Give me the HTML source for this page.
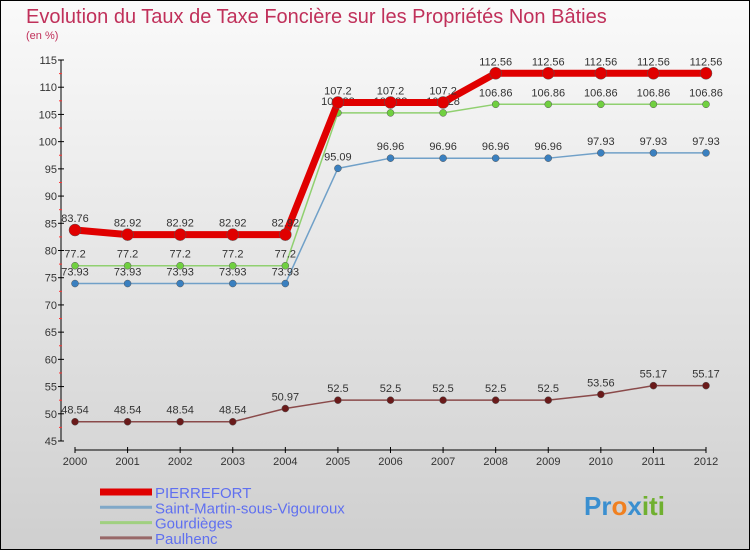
<!DOCTYPE html>
<html><head><meta charset="utf-8"><style>
body{margin:0}
svg{display:block;font-family:"Liberation Sans",sans-serif}
</style></head><body>
<svg width="750" height="550" viewBox="0 0 750 550">
<defs><linearGradient id="bg" x1="0" y1="0" x2="0" y2="1"><stop offset="0" stop-color="#fafafa"/><stop offset="1" stop-color="#cfcfcf"/></linearGradient></defs>
<rect x="0.5" y="0.5" width="749" height="549" fill="url(#bg)" stroke="#000"/>
<text x="26" y="23" font-size="20" fill="#c0305a">Evolution du Taux de Taxe Foncière sur les Propriétés Non Bâties</text>
<text x="26" y="39" font-size="11" fill="#c0305a">(en %)</text>
<g id="axes"></g>
<g id="series"></g>
<g id="legend"></g>
<text x="584" y="515" font-size="26" font-weight="bold"><tspan fill="#3a8fd0">Pr</tspan><tspan fill="#f08020">o</tspan><tspan fill="#3a8fd0">x</tspan><tspan fill="#70b030">iti</tspan></text>
</svg>
<script>
const years=[2000,2001,2002,2003,2004,2005,2006,2007,2008,2009,2010,2011,2012];
const pierrefort=[83.76,82.92,82.92,82.92,82.92,107.2,107.2,107.2,112.56,112.56,112.56,112.56,112.56];
const saintMartin=[73.93,73.93,73.93,73.93,73.93,95.09,96.96,96.96,96.96,96.96,97.93,97.93,97.93];
const gourdieges=[77.2,77.2,77.2,77.2,77.2,105.28,105.28,105.28,106.86,106.86,106.86,106.86,106.86];
const paulhenc=[48.54,48.54,48.54,48.54,50.97,52.5,52.5,52.5,52.5,52.5,53.56,55.17,55.17];
const yTicks=[45,50,55,60,65,70,75,80,85,90,95,100,105,110,115];
const NS="http://www.w3.org/2000/svg";
const x=i=>75+i*(706-75)/(years.length-1);
const y=v=>441-(v-45)*(441-60)/70;
function mk(p,t,a){const e=document.createElementNS(NS,t);for(const k in a)e.setAttribute(k,a[k]);p.appendChild(e);return e;}
const ax=document.getElementById('axes');
let l=mk(ax,'line',{x1:61,y1:60,x2:61,y2:441,stroke:'#000'});


l=mk(ax,'line',{x1:75,y1:450,x2:706,y2:450,stroke:'#000'});


yTicks.forEach((t,i)=>{
 mk(ax,'line',{x1:58,y1:y(t),x2:64,y2:y(t),stroke:'#000'});
 if(i<yTicks.length-1)mk(ax,'line',{x1:59,y1:y(t+2.5),x2:62,y2:y(t+2.5),stroke:'#f33'});
 const tx=mk(ax,'text',{x:57,y:y(t)+4,'font-size':11,'text-anchor':'end',fill:'#333'});
 tx.textContent=t;
 
 
});
years.forEach((yr,i)=>{
 mk(ax,'line',{x1:x(i),y1:447,x2:x(i),y2:453,stroke:'#000'});
 const tx=mk(ax,'text',{x:x(i),y:465,'font-size':11,'text-anchor':'middle',fill:'#333'});
 tx.textContent=yr;
 
 
});
const sg=document.getElementById('series');
function draw(data,color,w,r,name,dot){
 const g=mk(sg,'g',{});
 
 
 const pl=mk(g,'polyline',{points:data.map((v,i)=>x(i)+','+y(v)).join(' '),fill:'none',stroke:color,'stroke-width':w,'stroke-linejoin':'round'});
 
 
 data.forEach((v,i)=>{
  const c=mk(g,'circle',{cx:x(i),cy:y(v),r:r,fill:dot,stroke:'#555','stroke-width':0.5});
  
  
  const t=mk(g,'text',{x:x(i),y:y(v)-8,'font-size':11,'text-anchor':'middle',fill:'#333'});
  t.textContent=v;
  
  
 });
}
draw(paulhenc,'#8a4a4a',1.5,3.5,'paulhenc','#6a1a1a');
draw(saintMartin,'#70a0c8',1.5,3.5,'saint-martin','#3a80c0');
draw(gourdieges,'#90d070',1.5,3.5,'gourdieges','#70d040');
draw(pierrefort,'#e00000',7,6,'pierrefort','#e00000');
const lg=document.getElementById('legend');
const names=['PIERREFORT','Saint-Martin-sous-Vigouroux','Gourdièges','Paulhenc'];
const cols=['#e00000','#80a8c8','#a0d080','#986868'];
const ws=[7,3,3,3];
names.forEach((n,i)=>{
 const yy=492+i*15.3;
 const ln=mk(lg,'line',{x1:100,y1:yy,x2:152,y2:yy,stroke:cols[i],'stroke-width':ws[i]});
 
 
 const t=mk(lg,'text',{x:155,y:yy+6,'font-size':15,fill:'#6070f0'});
 t.textContent=n;
 
 
});
</script>
</body></html>
